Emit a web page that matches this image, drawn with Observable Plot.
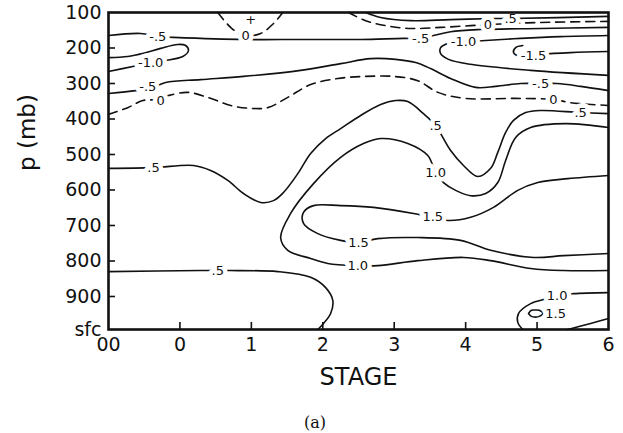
<!DOCTYPE html>
<html><head><meta charset="utf-8">
<script src="https://cdn.jsdelivr.net/npm/d3@7"></script>
<script src="https://cdn.jsdelivr.net/npm/@observablehq/plot@0.6"></script>
<style>
body{margin:0;background:#fff;width:623px;height:433px;overflow:hidden;}
#cap{font-family:"DejaVu Serif","Liberation Serif",serif;font-size:16px;line-height:30px;margin-left:304px;color:#111;}
</style></head><body><div id="chart"></div><div id="cap">(a)</div>
<script>
// axes
const stageTicks = [-1, 0, 1, 2, 3, 4, 5, 6];
const stageLabels = ["00", "0", "1", "2", "3", "4", "5", "6"];
const pTicks = [100, 200, 300, 400, 500, 600, 700, 800, 900, 993];
const pLabels = ["100", "200", "300", "400", "500", "600", "700", "800", "900", "sfc"];

// contour lines: [stage, pressure(mb)]
const c0_topArc = [[0.53,100],[0.71,142],[0.89,165],[1.13,159],[1.31,131],[1.44,100]];
const cm05_upper = [[-1,165],[-0.55,159],[-0.31,168],[-0.09,170],[0.89,176],[1.69,176],[2.53,176],[3.13,173],[3.37,173],[3.55,165],[3.79,154],[4.21,148],[5.05,145],[6,142]];
const cm10_left = [[-1,227],[-0.73,224],[-0.51,215],[-0.27,201],[-0.03,190],[0.08,193],[0.12,207],[0.04,224],[-0.20,235],[-0.41,241],[-0.66,252],[-1,266]];
const cm10_right = [[6,165],[5.33,168],[4.77,173],[4.28,179],[3.97,182],[3.75,187],[3.65,199],[3.65,216],[3.76,232],[4.07,246],[4.91,263],[6,277]];
const cm15 = [[6,210],[5.47,213],[5.05,218],[4.77,224],[4.67,213],[4.70,199],[4.80,193]];
const c0_lower = [[-1,387],[-0.73,368],[-0.52,348],[-0.31,345],[-0.16,334],[0.11,325],[0.39,339],[0.71,362],[0.99,370],[1.23,368],[1.51,339],[1.83,303],[2.21,286],[2.60,280],[2.99,280],[3.33,292],[3.61,325],[4.00,342],[4.70,342],[5.23,345],[5.47,354],[6,362]];
const cm05_lower = [[-1,328],[-0.62,320],[-0.41,314],[-0.20,297],[0.29,289],[0.89,280],[1.69,263],[2.25,244],[2.67,230],[3.02,232],[3.30,241],[3.51,258],[3.79,286],[4.14,311],[4.42,308],[4.77,300],[5.05,300],[5.28,300],[5.61,308],[6,320]];
const c05_top = [[2.60,100],[2.81,114],[3.23,123],[3.79,120],[4.42,117],[4.63,117],[6,111]];
const c0_topRight = [[2.36,100],[2.60,123],[2.88,137],[3.23,145],[3.65,142],[4.07,137],[4.31,134],[5.05,128],[6,125]];
const c05_main = [[-1,539],[-0.37,537],[0.19,531],[0.43,545],[0.67,573],[0.89,610],[1.13,635],[1.31,630],[1.45,607],[1.65,554],[1.83,497],[2.04,455],[2.25,427],[2.53,390],[2.81,359],[3.02,348],[3.19,351],[3.41,385],[3.58,418],[3.68,452],[3.79,489],[3.97,531],[4.17,562],[4.35,539],[4.45,494],[4.56,438],[4.67,404],[4.84,382],[5.05,376],[5.61,382],[6,385]];
const c10_main = [[6,424],[5.40,413],[4.91,424],[4.70,452],[4.56,517],[4.45,579],[4.28,610],[4.07,616],[3.86,601],[3.69,579],[3.58,551],[3.47,503],[3.19,469],[2.81,455],[2.57,469],[2.25,508],[1.87,582],[1.55,666],[1.41,734],[1.51,770],[1.83,793],[2.07,807],[2.49,813],[2.77,813],[3.33,799],[3.97,790],[4.35,799],[4.91,821],[5.37,827],[6,827]];
const c15_main = [[6,559],[5.43,568],[5.01,579],[4.73,601],[4.39,649],[4.07,677],[3.75,686],[3.54,677],[3.27,666],[2.71,649],[2.25,644],[1.87,644],[1.73,663],[1.73,694],[1.93,723],[2.25,742],[2.50,748],[2.77,737],[3.33,734],[3.93,742],[4.35,770],[4.95,790],[5.37,785],[6,779]];
const c05_low = [[-1,830],[0.29,827],[0.53,827],[0.71,827],[1.37,830],[1.83,846],[2.04,875],[2.14,911],[2.11,948],[2.01,976],[1.93,993]];
const c10_sfc = [[6,889],[5.51,892],[5.28,897],[5.14,906],[4.91,920],[4.74,948],[4.73,973],[4.80,993]];
const c15_sfcEdge = [[5.43,993],[5.75,976],[6,962]];
const c15_cell = [[4.88,948],[4.92,939],[4.98,938],[5.03,939],[5.08,948],[5.03,956],[4.98,958],[4.92,956],[4.88,948]];

const contourLevels = [0, -0.5, -1.0, -1.0, -1.5, 0, -0.5, 0.5, 0, 0.5, 1.0, 1.5, 0.5, 1.0, 1.5, 1.5];
const contourLines = [c0_topArc, cm05_upper, cm10_left, cm10_right, cm15, c0_lower, cm05_lower, c05_top, c0_topRight, c05_main, c10_main, c15_main, c05_low, c10_sfc, c15_sfcEdge, c15_cell];

// contour labels: stage, pressure, text
const labelStage = [0.92, -0.31, 3.37, -0.41, 3.97, 4.95, -0.27, 5.23, -0.45, 5.05, 4.63, 4.31, -0.37, 3.58, 5.61, 3.58, 2.49, 3.54, 2.50, 0.53, 5.28, 5.26];
const labelP =     [165, 168, 173, 241, 182, 221, 350, 345, 310, 300, 117, 134, 537, 418, 382, 551, 813, 677, 748, 827, 897, 948];
const labelText =  ["0", "-.5", "-.5", "-1.0", "-1.0", "-1.5", "0", "0", "-.5", "-.5", ".5", "0", ".5", ".5", ".5", "1.0", "1.0", "1.5", "1.5", ".5", "1.0", "1.5"];
const plusMark = [[0.99, 120]];

const rows = contourLines.flatMap((pts, i) => pts.map(([s, p]) => ({id: i, level: contourLevels[i], s, p})));
const labels = labelText.map((t, i) => ({s: labelStage[i], p: labelP[i], t}));

const W = 623, H = 408;
const chart = Plot.plot({
  width: W, height: H,
  marginLeft: 108, marginRight: 15, marginTop: 12, marginBottom: H - 329,
  style: {fontFamily: "DejaVu Sans, sans-serif", fontSize: "19px", color: "#111", background: "white"},
  x: {domain: [-1, 6]},
  y: {domain: [100, 993], reverse: true},
  marks: [
    Plot.line(rows.filter(d => d.level !== 0), {x: "s", y: "p", z: "id", curve: "catmull-rom", stroke: "#111", strokeWidth: 1.6}),
    Plot.line(rows.filter(d => d.level === 0), {x: "s", y: "p", z: "id", curve: "catmull-rom", stroke: "#111", strokeWidth: 1.6, strokeDasharray: "9,6"}),
    Plot.text(labels, {x: "s", y: "p", text: "t", fill: "#111", stroke: "white", strokeWidth: 9, strokeLinejoin: "round", fontSize: 13, fontFamily: "DejaVu Sans, sans-serif"}),
    Plot.text(plusMark, {x: d => d[0], y: d => d[1], text: () => "+", fill: "#111", fontSize: 13}),
    Plot.tickX(stageTicks.slice(1, -1), {x: d => d, insetTop: 310, stroke: "#111", strokeWidth: 1.6}),
    Plot.tickY(pTicks.slice(1, -1), {y: d => d, insetRight: 493, stroke: "#111", strokeWidth: 1.6}),
    Plot.frame({stroke: "#111", strokeWidth: 2.6}),
    Plot.axisX(stageTicks, {tickSize: 0, tickPadding: 8, tickFormat: d => stageLabels[stageTicks.indexOf(d)], label: null, fontSize: 19}),
    Plot.axisY(pTicks, {tickSize: 0, tickPadding: 7, tickFormat: d => pLabels[pTicks.indexOf(d)], label: null, fontSize: 19}),
    Plot.text(["STAGE"], {frameAnchor: "bottom", dy: 55, text: d => d, fontSize: 24, fill: "#111"}),
    Plot.text(["p (mb)"], {frameAnchor: "left", dx: -81, rotate: -90, text: d => d, fontSize: 23, fill: "#111"})
  ]
});
document.getElementById("chart").appendChild(chart);
</script></body></html>
